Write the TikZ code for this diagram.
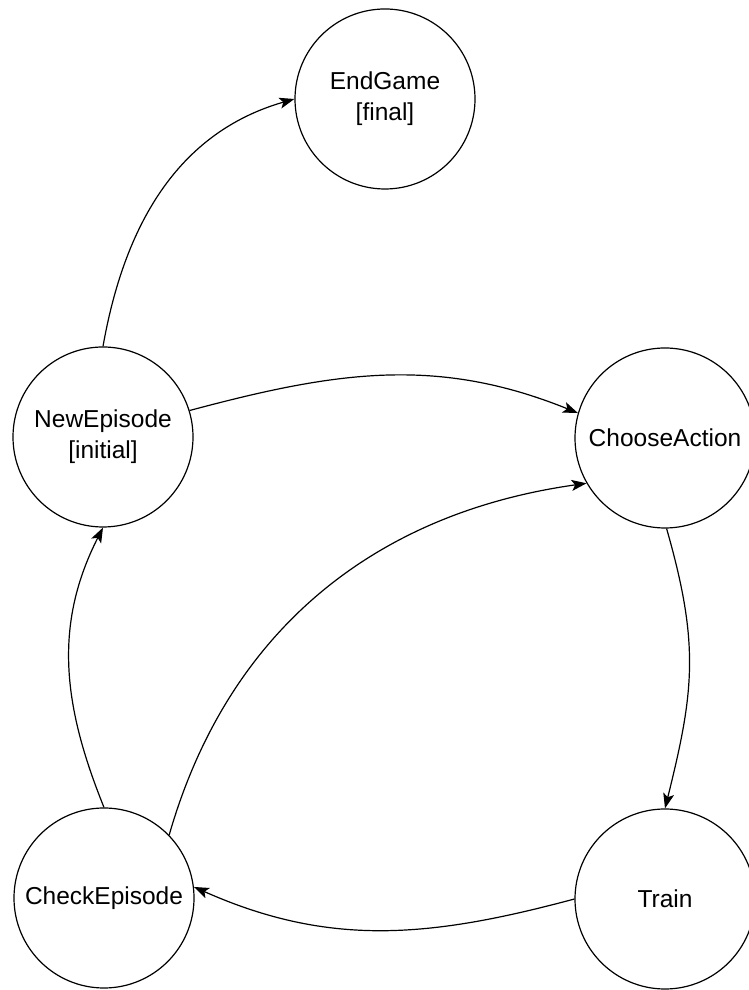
\documentclass[tikz,border=0pt]{standalone}
\usepackage{fontspec}
\setmainfont{Liberation Sans}
\usetikzlibrary{arrows.meta}
\begin{document}
\begin{tikzpicture}[x=1pt,y=1pt,
  state/.style={circle,draw,line width=1.2pt,minimum size=180pt,inner sep=0pt,align=center,font=\fontsize{24.5}{31}\selectfont},
  edge/.style={line width=1.2pt,-{Stealth[length=15pt,width=11pt,inset=3.5pt]}}]
\useasboundingbox (0,0) rectangle (748,990);
\node[state] (end) at (385,891) {EndGame\\{}[final]};
\node[state] (new) at (103,553) {NewEpisode\\{}[initial]};
\node[state] (choose) at (665,552) {ChooseAction};
\node[state] (check) at (104,92) {CheckEpisode};
\node[state] (train) at (665,91) {Train};
\draw[edge] (new.90) to[out=80,in=196] (end.180);
\draw[edge] (new.17) to[out=15,in=158] (choose.164);
\draw[edge] (choose.-89) to[out=-74,in=76,looseness=1.1] (train.90);
\draw[edge] (train.180) to[out=195,in=336] (check.7);
\draw[edge] (check.90) to[out=112,in=243] (new.270);
\draw[edge] (check.44) to[out=74,in=188] (choose.210);
\end{tikzpicture}
\end{document}
